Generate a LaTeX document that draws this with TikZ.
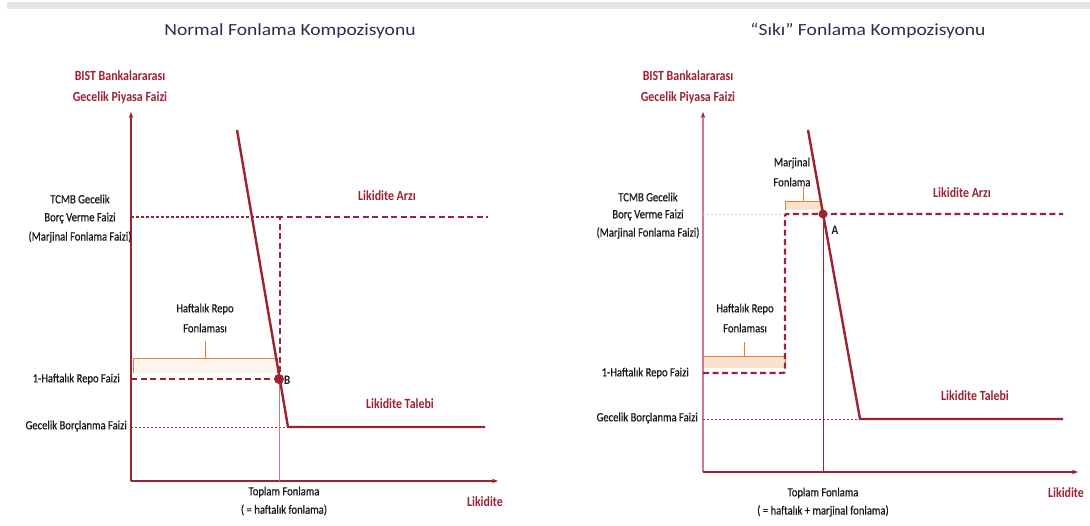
\documentclass[tikz,border=0pt]{standalone}
\usepackage{fontspec}
\setmainfont{Carlito}
\newfontfamily\ttlfont[FakeStretch=1.15]{Carlito}
\newfontfamily\labfont[FakeStretch=0.85]{Carlito}
\newfontfamily\blkfont[FakeStretch=0.85,FakeBold=0.6]{Carlito}
\usetikzlibrary{arrows.meta}
\definecolor{dred}{RGB}{155,35,53}
\definecolor{pinkax}{RGB}{200,125,138}
\definecolor{ttlc}{RGB}{45,45,75}
\definecolor{brk}{RGB}{237,125,49}
\definecolor{peach}{RGB}{251,226,206}
\definecolor{palepeach}{RGB}{253,246,240}
\definecolor{labc}{RGB}{25,25,25}
\definecolor{barc}{RGB}{229,229,229}
\definecolor{faint}{RGB}{215,215,215}
\tikzset{
  axisln/.style={draw=dred, line width=1.6pt},
  tipend/.style={-{Stealth[length=6pt,width=4.5pt,color=dred]}},
  demand/.style={draw=dred, line width=2.4pt, line join=miter},
  supply/.style={draw=dred, line width=2.4pt, dash pattern=on 6pt off 3.5pt},
  guide/.style={draw=dred, line width=0.7pt, dash pattern=on 2pt off 2pt},
  tguide/.style={draw=dred, line width=1.4pt, dash pattern=on 3pt off 2pt},
  fguide/.style={draw=faint, line width=0.7pt, dash pattern=on 2pt off 2pt},
  dropln/.style={draw=pinkax, line width=0.8pt},
  bracketln/.style={draw=brk, line width=0.8pt},
  ttl/.style={text=ttlc, inner sep=0pt, font=\ttlfont\fontsize{17}{20}\selectfont},
  redlab/.style={text=dred, inner sep=0pt, font=\labfont\bfseries\fontsize{14}{16}\selectfont},
  blklab/.style={text=labc, inner sep=0pt, font=\blkfont\fontsize{12.5}{15}\selectfont},
  ptlab/.style={text=labc, inner sep=0pt, font=\labfont\bfseries\fontsize{13}{15}\selectfont},
  ptdot/.style={circle, fill=dred, inner sep=0pt, minimum size=10pt}
}
\begin{document}
\begin{tikzpicture}[x=1pt,y=-1pt]
\useasboundingbox (0,0) rectangle (1090,525);
\fill[white] (0,0) rectangle (1090,525);
\coordinate (barA) at (7,2);
\coordinate (barB) at (1090,9);
\fill[barc] (barA) rectangle (barB);

% ================= LEFT CHART =================
\coordinate (O1) at (131,481);
\coordinate (Y1) at (131,112);
\coordinate (X1) at (498,481);
\coordinate (T1) at (131,217);
\coordinate (S1a) at (280,217);
\coordinate (S1b) at (488,217);
\coordinate (S1v) at (280,372);
\coordinate (R1) at (131,379);
\coordinate (B) at (279,379);
\coordinate (B1x) at (279,481);
\coordinate (G1) at (131,427);
\coordinate (D1a) at (237,130);
\coordinate (D1b) at (288,427);
\coordinate (D1c) at (485,427);
\coordinate (K1a) at (133,373);
\coordinate (K1b) at (133,358);
\coordinate (K1c) at (277,358);
\coordinate (K1d) at (277,373);
\coordinate (K1m) at (205,358);
\coordinate (K1t) at (205,341);

\fill[palepeach] (K1b) rectangle (K1d);
\draw[bracketln] (K1a) -- (K1b) -- (K1c) -- (K1d);
\draw[bracketln] (K1m) -- (K1t);

\draw[axisln, tipend] (O1) -- (Y1);
\draw[axisln, tipend] (O1) -- (X1);
\draw[guide] (G1) -- (D1b);
\draw[tguide] (T1) -- (S1a);
\draw[supply] (S1v) -- (S1a) -- (S1b);
\draw[supply] (R1) -- (B);
\draw[dropln] (B) -- (B1x);
\draw[demand] (D1a) -- (D1b) -- (D1c);
\node[ptdot] (Bdot) at (B) {};

\node[ttl] (title1) at (290,31) {Normal Fonlama Kompozisyonu};
\node[redlab] (yl1a) at (120,76) {BIST Bankalararası};
\node[redlab] (yl1b) at (120,98) {Gecelik Piyasa Faizi};
\node[blklab] (tc1a) at (80,199) {TCMB Gecelik};
\node[blklab] (tc1b) at (80,218) {Borç Verme Faizi};
\node[blklab] (tc1c) at (80,237) {(Marjinal Fonlama Faizi)};
\node[redlab] (arz1) at (387,196) {Likidite Arzı};
\node[blklab] (hr1a) at (205,309) {Haftalık Repo};
\node[blklab] (hr1b) at (205,328) {Fonlaması};
\node[blklab, anchor=east] (rf1) at (120,379) {1-Haftalık Repo Faizi};
\node[blklab, anchor=east] (gb1) at (127,426) {Gecelik Borçlanma Faizi};
\node[ptlab, anchor=west] (Blab) at (284,380) {B};
\node[redlab] (tal1) at (400,404) {Likidite Talebi};
\node[blklab] (tf1a) at (284,492) {Toplam Fonlama};
\node[blklab] (tf1b) at (284,510) {( = haftalık fonlama)};
\node[redlab] (lk1) at (485,502) {Likidite};

% ================= RIGHT CHART =================
\coordinate (O2) at (703,472);
\coordinate (Y2) at (703,112);
\coordinate (X2) at (1078,472);
\coordinate (F2) at (703,214);
\coordinate (R2) at (703,373);
\coordinate (R2c) at (785,373);
\coordinate (S2c) at (785,214);
\coordinate (S2b) at (1063,214);
\coordinate (A) at (823,214);
\coordinate (A2x) at (823,472);
\coordinate (G2) at (703,419);
\coordinate (D2a) at (808,130);
\coordinate (D2b) at (860,419);
\coordinate (D2c) at (1063,419);
\coordinate (K2a) at (703,368);
\coordinate (K2b) at (703,356);
\coordinate (K2c) at (785,356);
\coordinate (K2d) at (785,368);
\coordinate (K2m) at (744,356);
\coordinate (K2t) at (744,342);
\coordinate (M2a) at (785,210);
\coordinate (M2b) at (785,201);
\coordinate (M2c) at (821,201);
\coordinate (M2d) at (821,210);
\coordinate (M2m) at (803,201);
\coordinate (M2t) at (803,187);

\fill[peach] (K2b) rectangle (K2d);
\draw[bracketln] (K2a) -- (K2b) -- (K2c) -- (K2d);
\draw[bracketln] (K2m) -- (K2t);
\fill[peach] (M2b) rectangle (M2d);
\draw[bracketln] (M2a) -- (M2b) -- (M2c) -- (M2d);
\draw[bracketln] (M2m) -- (M2t);

\draw[axisln, draw=pinkax, tipend] (O2) -- (Y2);
\draw[axisln, tipend] (O2) -- (X2);
\draw[guide] (G2) -- (D2b);
\draw[fguide] (F2) -- (S2c);
\draw[supply, rounded corners=2pt] (R2) -- (R2c) -- (S2c) -- (S2b);
\draw[draw=dred, line width=0.8pt] (A) -- (A2x);
\draw[demand] (D2a) -- (D2b) -- (D2c);
\node[ptdot, minimum size=9pt] (Adot) at (A) {};

\node[ttl] (title2) at (868,31) {“Sıkı” Fonlama Kompozisyonu};
\node[redlab] (yl2a) at (688,76) {BIST Bankalararası};
\node[redlab] (yl2b) at (688,98) {Gecelik Piyasa Faizi};
\node[blklab] (tc2a) at (648,197) {TCMB Gecelik};
\node[blklab] (tc2b) at (648,215) {Borç Verme Faizi};
\node[blklab] (tc2c) at (648,233) {(Marjinal Fonlama Faizi)};
\node[redlab] (arz2) at (962,193) {Likidite Arzı};
\node[blklab] (mf2a) at (792,163) {Marjinal};
\node[blklab] (mf2b) at (792,182) {Fonlama};
\node[ptlab] (Alab) at (835,230) {A};
\node[blklab] (hr2a) at (745,309) {Haftalık Repo};
\node[blklab] (hr2b) at (745,328) {Fonlaması};
\node[blklab, anchor=east] (rf2) at (689,373) {1-Haftalık Repo Faizi};
\node[blklab, anchor=east] (gb2) at (698,418) {Gecelik Borçlanma Faizi};
\node[redlab] (tal2) at (975,396) {Likidite Talebi};
\node[blklab] (tf2a) at (823,493) {Toplam Fonlama};
\node[blklab] (tf2b) at (823,511) {( = haftalık + marjinal fonlama)};
\node[redlab] (lk2) at (1066,493) {Likidite};
\end{tikzpicture}
\end{document}
